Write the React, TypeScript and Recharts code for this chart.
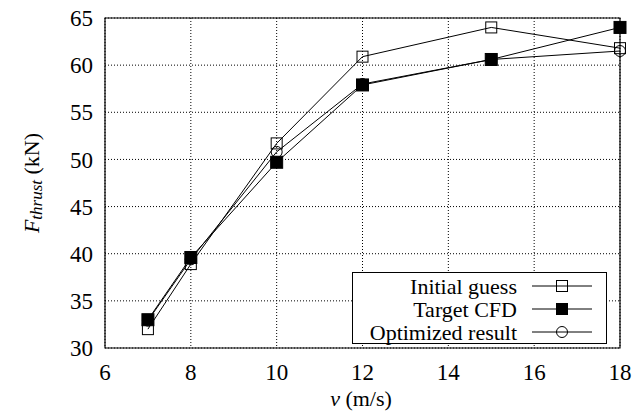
import { LineChart, Line, XAxis, YAxis, CartesianGrid, ReferenceArea } from "recharts";

const speeds = [7, 8, 10, 12, 15, 18];
const initialGuess = [32.0, 38.9, 51.7, 60.9, 64.0, 61.8];
const targetCfd = [33.0, 39.6, 49.7, 57.9, 60.6, 64.0];
const optimizedResult = [32.9, 39.4, 50.8, 58.0, 60.6, 61.5];

const xTicks = [6, 8, 10, 12, 14, 16, 18];
const yTicks = [30, 35, 40, 45, 50, 55, 60, 65];

const seriesNames = ["Initial guess", "Target CFD", "Optimized result"];

const data = speeds.map((v, i) => ({
  v,
  initial: initialGuess[i],
  target: targetCfd[i],
  optimized: optimizedResult[i],
}));

const font = "Liberation Serif";

type DotProps = { cx?: number; cy?: number; index?: number };

const OpenSquare = ({ cx, cy, index }: DotProps) =>
  cx == null || cy == null ? null : (
    <rect key={`s-${index}`} x={cx - 5.5} y={cy - 5.5} width={11} height={11} fill="none" stroke="#000" strokeWidth={1} />
  );

const FilledSquare = ({ cx, cy, index }: DotProps) =>
  cx == null || cy == null ? null : (
    <rect key={`f-${index}`} x={cx - 6} y={cy - 6} width={12} height={12} fill="#000" stroke="#000" />
  );

const OpenCircle = ({ cx, cy, index }: DotProps) =>
  cx == null || cy == null ? null : (
    <circle key={`c-${index}`} cx={cx} cy={cy} r={5.5} fill="none" stroke="#000" strokeWidth={1} />
  );

const markers = [
  (x: number, y: number) => <rect x={x - 5.5} y={y - 5.5} width={11} height={11} fill="none" stroke="#000" />,
  (x: number, y: number) => <rect x={x - 6} y={y - 6} width={12} height={12} fill="#000" />,
  (x: number, y: number) => <circle cx={x} cy={y} r={5.5} fill="none" stroke="#000" />,
];

const textStyle = { fontFamily: font, fontSize: 22, fill: "#000" };
const tickStyle = { fontFamily: font, fontSize: 23, fill: "#000" };

function Overlay() {
  return (
    <svg width={634} height={419} style={{ position: "absolute", left: 0, top: 0, pointerEvents: "none" }}>
      <g transform="translate(352 272)">
        <rect x={0.5} y={0.5} width={254} height={71} fill="#fff" stroke="#000" />
        {seriesNames.map((name, i) => {
          const y = 14 + i * 23;
          return (
            <g key={name}>
              <text x={165} y={y} textAnchor="end" dominantBaseline="central" fontFamily={font} style={textStyle}>
                {name}
              </text>
              <line x1={180} x2={240} y1={y} y2={y} stroke="#000" />
              {markers[i](210, y)}
            </g>
          );
        })}
      </g>
      <text
        x={31}
        y={183}
        transform="rotate(-90 31 183)"
        textAnchor="middle"
        dominantBaseline="central"
        fontFamily={font}
        style={textStyle}
      >
        <tspan fontStyle="italic">F</tspan>
        <tspan fontStyle="italic" style={{ fontSize: 17 }} dy={5}>thrust</tspan>
        <tspan dy={-5}> (kN)</tspan>
      </text>
      <text x={361} y={398} textAnchor="middle" dominantBaseline="central" fontFamily={font} style={textStyle}>
        <tspan fontStyle="italic">v</tspan>
        <tspan> (m/s)</tspan>
      </text>
    </svg>
  );
}

export default function App() {
  return (
    <div style={{ position: "absolute", left: 0, top: 0, width: 634, height: 419, background: "#fff", fontFamily: font }}>
      <LineChart width={634} height={419} data={data} margin={{ top: 18, right: 14, left: 0, bottom: 0 }} style={{ fontFamily: font }}>
        <CartesianGrid stroke="#000" strokeDasharray="1 2" strokeWidth={1} />
        <XAxis
          dataKey="v"
          type="number"
          domain={[6, 18]}
          ticks={xTicks}
          height={71}
          axisLine={false}
          tickLine={false}
          tickMargin={10}
          tick={{ style: tickStyle, fontFamily: font, fontSize: 23, fill: "#000" }}
        />
        <YAxis
          type="number"
          domain={[30, 65]}
          ticks={yTicks}
          width={105}
          axisLine={false}
          tickLine={false}
          tickMargin={6}
          tick={{ style: tickStyle, fontFamily: font, fontSize: 23, fill: "#000" }}
        />
        <ReferenceArea x1={6} x2={18} y1={30} y2={65} fill="none" stroke="#000" strokeWidth={1.2} />
        <Line dataKey="initial" name={seriesNames[0]} stroke="#000" strokeWidth={1} dot={OpenSquare} activeDot={false} isAnimationActive={false} />
        <Line dataKey="target" name={seriesNames[1]} stroke="#000" strokeWidth={1} dot={FilledSquare} activeDot={false} isAnimationActive={false} />
        <Line dataKey="optimized" name={seriesNames[2]} stroke="#000" strokeWidth={1} dot={OpenCircle} activeDot={false} isAnimationActive={false} />
      </LineChart>
      <Overlay />
    </div>
  );
}
